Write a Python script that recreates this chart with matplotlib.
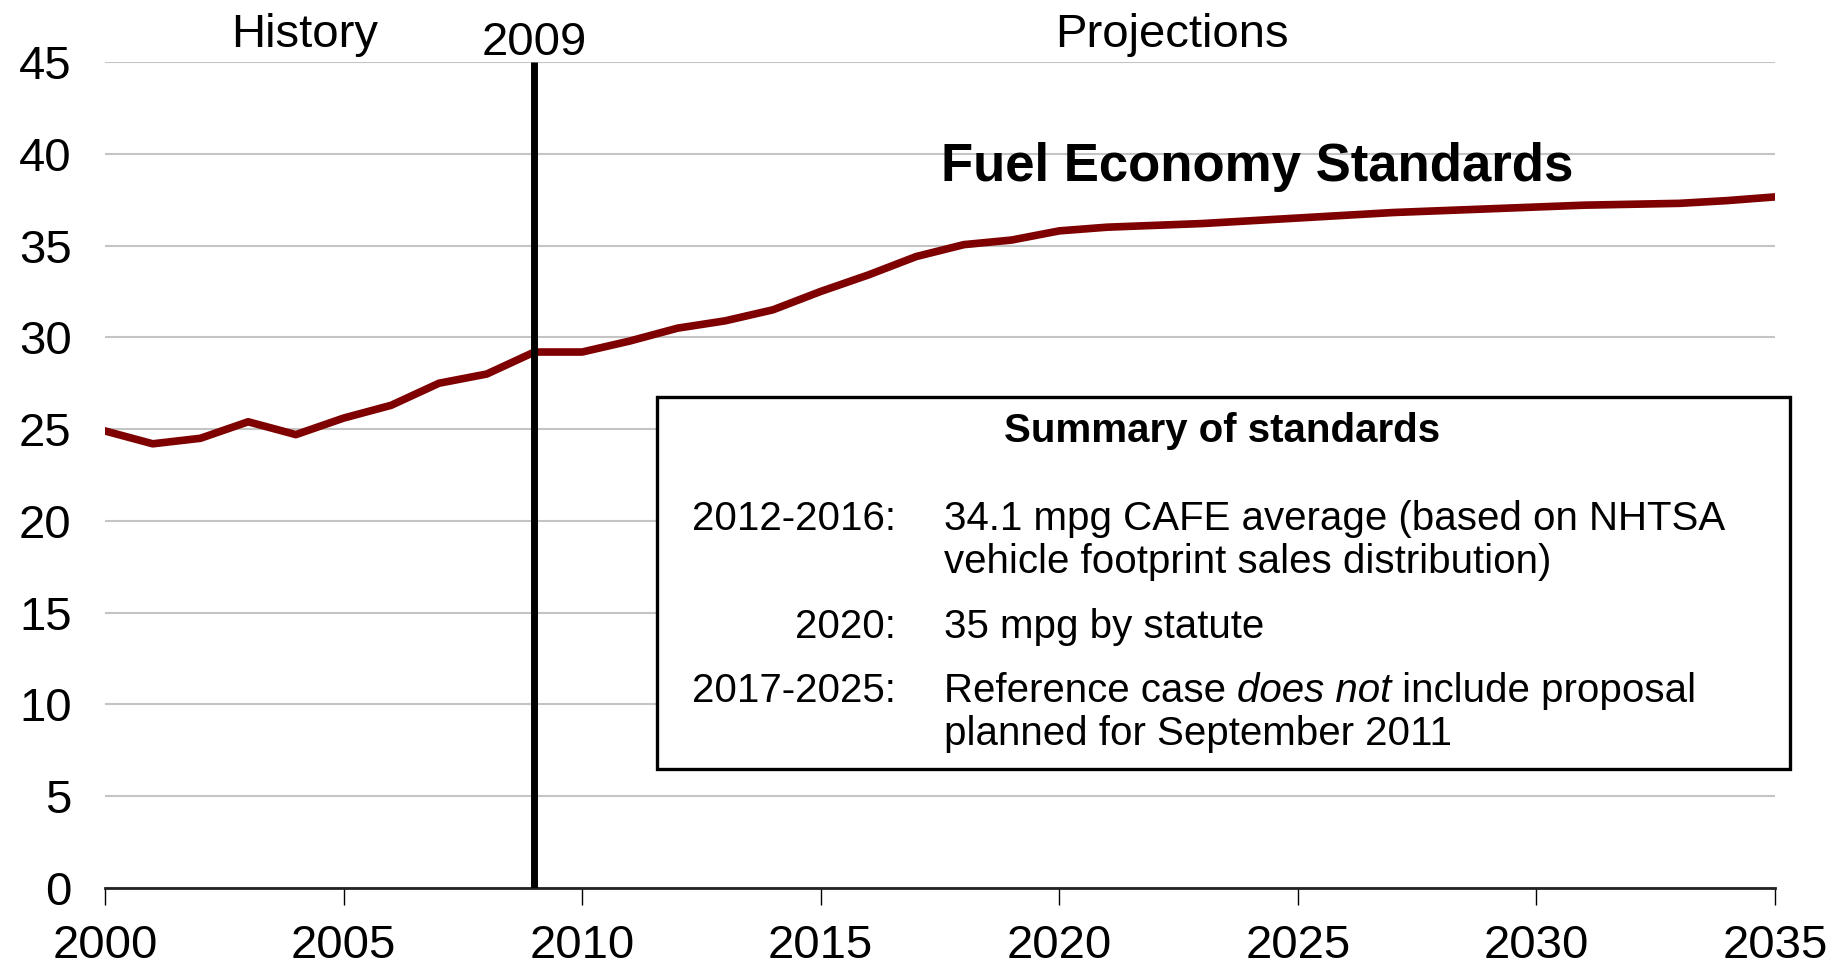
import matplotlib
matplotlib.use("Agg")
import matplotlib.pyplot as plt
from matplotlib.patches import Rectangle

plt.rcParams['font.family'] = ['Liberation Sans', 'DejaVu Sans']

years = list(range(2000, 2036))
mpg = [24.9, 24.2, 24.5, 25.4, 24.7, 25.6, 26.3, 27.5, 28.0, 29.2,
       29.2, 29.8, 30.5, 30.9, 31.5, 32.5, 33.4, 34.4, 35.05, 35.3,
       35.8, 36.0, 36.1, 36.2, 36.35, 36.5, 36.65, 36.8, 36.9, 37.0,
       37.1, 37.2, 37.25, 37.3, 37.45, 37.65]
x_ticks = [2000, 2005, 2010, 2015, 2020, 2025, 2030, 2035]
y_ticks = [0, 5, 10, 15, 20, 25, 30, 35, 40, 45]
divider_year = 2009

fig = plt.figure(figsize=(18.33, 9.76), dpi=100)
ax = fig.add_axes([105/1833, 1-888/976, (1775-105)/1833, (888-62)/976])

ax.set_xlim(2000, 2035)
ax.set_ylim(0, 45)
ax.set_xticks(x_ticks)
ax.set_yticks(y_ticks)
ax.tick_params(axis='x', labelsize=34, length=12, width=1, pad=14, direction='out')
ax.tick_params(axis='y', labelsize=34, length=0, pad=24)
for s in ['left', 'right', 'top']:
    ax.spines[s].set_visible(False)
ax.spines['bottom'].set_linewidth(2.0)
ax.spines['bottom'].set_color('#222222')
ax.yaxis.grid(True, color='#c4c4c4', linewidth=1.5)
ax.set_axisbelow(True)

ax.plot(years, mpg, color='#7f0000', linewidth=5.5, solid_joinstyle='round', zorder=3)
ax.plot([divider_year, divider_year], [0, 45], color='black', linewidth=5, zorder=4,
        solid_capstyle='butt')

fig.text(305/1833, 1-47/976, 'History', fontsize=34, ha='center', va='baseline')
fig.text(ax.transData.transform((divider_year, 0))[0]/1833, 1-55/976, '2009',
         fontsize=34, ha='center', va='baseline')
fig.text(1172/1833, 1-47/976, 'Projections', fontsize=34, ha='center', va='baseline')

fig.text(941/1833, 1-181/976, 'Fuel Economy Standards', fontsize=38,
         fontweight='bold', ha='left', va='baseline')

box = Rectangle((657/1833, 1-769/976), (1790-657)/1833, (769-397)/976,
                transform=fig.transFigure, facecolor='white', edgecolor='black',
                linewidth=2.4, zorder=5)
fig.patches.append(box)

fs = 29
fig.text(1222/1833, 1-442/976, 'Summary of standards', fontsize=fs, fontweight='bold',
         ha='center', va='baseline', zorder=6)
rx = 896/1833
lx = 944/1833
rows = [
    (530, '2012-2016:', '34.1 mpg CAFE average (based on NHTSA'),
    (573, '', 'vehicle footprint sales distribution)'),
    (638, '2020:', '35 mpg by statute'),
    (702, '2017-2025:', 'Reference case |does not| include proposal'),
    (745, '', 'planned for September 2011'),
]
fig.canvas.draw()
r = fig.canvas.get_renderer()
for yb, lab, txt in rows:
    if lab:
        fig.text(rx, 1-yb/976, lab, fontsize=fs, ha='right', va='baseline', zorder=6)
    parts = txt.split('|')
    xcur = lx
    for i, p in enumerate(parts):
        t = fig.text(xcur, 1-yb/976, p, fontsize=fs, ha='left', va='baseline', zorder=6,
                     style='italic' if i % 2 == 1 else 'normal')
        if i < len(parts) - 1:
            bb = t.get_window_extent(r)
            xcur = bb.x1/1833

fig.savefig('out.png', dpi=100)
